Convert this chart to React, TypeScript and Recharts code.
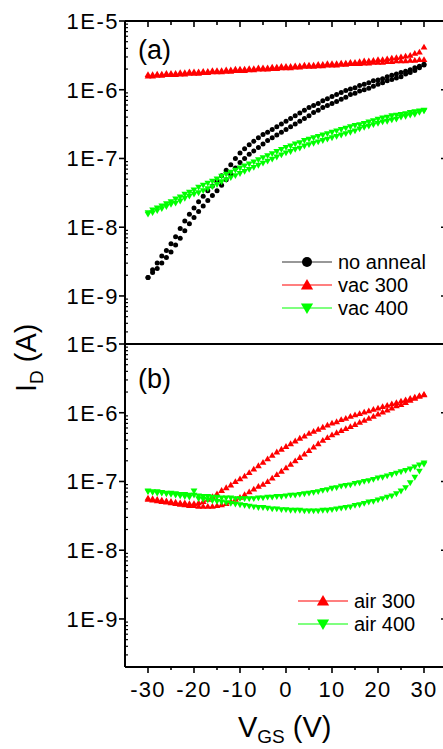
import React from "react";
import { ScatterChart, Scatter, XAxis, YAxis, Legend } from "recharts";

const FONT = '"Liberation Sans", Arial, sans-serif';

// gate sweep, V
const vgs = [
  -30, -29, -28, -27, -26, -25, -24, -23, -22, -21,
  -20, -19, -18, -17, -16, -15, -14, -13, -12, -11,
  -10, -9, -8, -7, -6, -5, -4, -3, -2, -1,
  0, 1, 2, 3, 4, 5, 6, 7, 8, 9,
  10, 11, 12, 13, 14, 15, 16, 17, 18, 19,
  20, 21, 22, 23, 24, 25, 26, 27, 28, 29,
  30,
];

// log10(I_D / A); one value per vgs entry
// panel (a)
const noAnnealFwd = [
  -8.73, -8.66, -8.6, -8.52, -8.44, -8.36, -8.26, -8.16, -8.05, -7.95,
  -7.86, -7.77, -7.69, -7.61, -7.54, -7.47, -7.39, -7.31, -7.23, -7.14,
  -7.06, -7.0, -6.94, -6.89, -6.84, -6.79, -6.74, -6.7, -6.66, -6.62,
  -6.58, -6.54, -6.5, -6.46, -6.42, -6.38, -6.33, -6.3, -6.26, -6.23,
  -6.2, -6.17, -6.14, -6.11, -6.07, -6.05, -6.02, -6.0, -5.98, -5.95,
  -5.92, -5.9, -5.87, -5.85, -5.83, -5.81, -5.77, -5.75, -5.72, -5.68,
  -5.64,
];
const noAnnealRev = [
  -8.73, -8.62, -8.52, -8.42, -8.34, -8.24, -8.14, -8.02, -7.91, -7.81,
  -7.72, -7.63, -7.55, -7.47, -7.4, -7.33, -7.25, -7.17, -7.09, -7.0,
  -6.92, -6.86, -6.8, -6.75, -6.7, -6.65, -6.62, -6.58, -6.54, -6.5,
  -6.46, -6.42, -6.38, -6.34, -6.3, -6.26, -6.23, -6.2, -6.16, -6.13,
  -6.1, -6.07, -6.04, -6.01, -5.99, -5.97, -5.94, -5.92, -5.9, -5.87,
  -5.86, -5.84, -5.81, -5.79, -5.77, -5.75, -5.73, -5.71, -5.68, -5.66,
  -5.63,
];
const vac300Fwd = [
  -5.8, -5.8, -5.79, -5.79, -5.78, -5.78, -5.78, -5.77, -5.77, -5.76,
  -5.76, -5.76, -5.75, -5.75, -5.74, -5.74, -5.74, -5.73, -5.73, -5.72,
  -5.72, -5.72, -5.71, -5.71, -5.7, -5.7, -5.7, -5.69, -5.69, -5.68,
  -5.68, -5.68, -5.67, -5.67, -5.66, -5.66, -5.66, -5.65, -5.65, -5.64,
  -5.64, -5.64, -5.63, -5.63, -5.62, -5.62, -5.62, -5.61, -5.61, -5.6,
  -5.6, -5.6, -5.59, -5.59, -5.58, -5.58, -5.58, -5.57, -5.57, -5.56,
  -5.56,
];
const vac300Rev = [
  -5.78, -5.78, -5.77, -5.77, -5.76, -5.76, -5.76, -5.75, -5.75, -5.74,
  -5.74, -5.74, -5.73, -5.73, -5.72, -5.72, -5.72, -5.71, -5.71, -5.7,
  -5.7, -5.7, -5.69, -5.69, -5.68, -5.68, -5.68, -5.67, -5.67, -5.66,
  -5.66, -5.66, -5.65, -5.65, -5.64, -5.64, -5.64, -5.63, -5.63, -5.62,
  -5.62, -5.62, -5.61, -5.61, -5.6, -5.6, -5.59, -5.58, -5.58, -5.57,
  -5.56, -5.56, -5.55, -5.54, -5.53, -5.52, -5.51, -5.5, -5.47, -5.45,
  -5.38,
];
const vac400Fwd = [
  -7.81, -7.79, -7.76, -7.73, -7.7, -7.67, -7.65, -7.62, -7.58, -7.55,
  -7.52, -7.5, -7.47, -7.44, -7.41, -7.38, -7.34, -7.31, -7.28, -7.25,
  -7.22, -7.19, -7.16, -7.13, -7.1, -7.07, -7.04, -7.01, -6.98, -6.95,
  -6.92, -6.9, -6.87, -6.85, -6.82, -6.8, -6.78, -6.76, -6.74, -6.72,
  -6.7, -6.68, -6.66, -6.64, -6.62, -6.6, -6.57, -6.55, -6.53, -6.51,
  -6.49, -6.47, -6.46, -6.44, -6.43, -6.4, -6.39, -6.37, -6.36, -6.33,
  -6.31,
];
const vac400Rev = [
  -7.79, -7.75, -7.72, -7.69, -7.66, -7.63, -7.59, -7.56, -7.52, -7.49,
  -7.46, -7.42, -7.39, -7.36, -7.33, -7.3, -7.26, -7.23, -7.2, -7.17,
  -7.14, -7.11, -7.08, -7.05, -7.02, -6.99, -6.96, -6.93, -6.9, -6.87,
  -6.84, -6.82, -6.79, -6.77, -6.74, -6.72, -6.7, -6.68, -6.66, -6.64,
  -6.62, -6.6, -6.58, -6.56, -6.54, -6.52, -6.51, -6.49, -6.47, -6.45,
  -6.43, -6.41, -6.4, -6.38, -6.37, -6.36, -6.35, -6.33, -6.32, -6.31,
  -6.3,
];

// panel (b)
const air300Fwd = [
  -7.26, -7.27, -7.28, -7.29, -7.3, -7.31, -7.32, -7.33, -7.34, -7.35,
  -7.35, -7.36, -7.36, -7.36, -7.36, -7.35, -7.34, -7.32, -7.29, -7.26,
  -7.23, -7.19, -7.15, -7.11, -7.07, -7.04, -7.0, -6.95, -6.9, -6.85,
  -6.8, -6.75, -6.7, -6.65, -6.6, -6.55, -6.5, -6.45, -6.4, -6.36,
  -6.32, -6.29, -6.26, -6.23, -6.2, -6.17, -6.14, -6.11, -6.08, -6.05,
  -6.02, -5.99, -5.96, -5.93, -5.9, -5.88, -5.85, -5.82, -5.79, -5.76,
  -5.74,
];
const air300Rev = [
  -7.24, -7.25, -7.26, -7.27, -7.28, -7.29, -7.3, -7.31, -7.31, -7.32,
  -7.32, -7.31, -7.29, -7.26, -7.22, -7.18, -7.13, -7.09, -7.05, -7.0,
  -6.96, -6.92, -6.87, -6.82, -6.77, -6.72, -6.67, -6.62, -6.57, -6.53,
  -6.49, -6.45, -6.41, -6.37, -6.34, -6.3, -6.27, -6.24, -6.21, -6.18,
  -6.15, -6.13, -6.1, -6.08, -6.05, -6.03, -6.01, -5.99, -5.97, -5.95,
  -5.93, -5.91, -5.89, -5.87, -5.85, -5.83, -5.81, -5.79, -5.77, -5.75,
  -5.73,
];
const air400Fwd = [
  -7.14, -7.15, -7.15, -7.16, -7.17, -7.17, -7.18, -7.19, -7.19, -7.2,
  -7.2, -7.21, -7.22, -7.22, -7.23, -7.23, -7.24, -7.24, -7.24, -7.25,
  -7.25, -7.25, -7.25, -7.25, -7.24, -7.24, -7.23, -7.23, -7.22, -7.22,
  -7.21, -7.2, -7.2, -7.19, -7.18, -7.17, -7.16, -7.15, -7.13, -7.12,
  -7.1, -7.09, -7.07, -7.06, -7.05, -7.03, -7.02, -7.0, -6.99, -6.97,
  -6.95, -6.94, -6.92, -6.9, -6.88, -6.86, -6.84, -6.82, -6.79, -6.76,
  -6.73,
];
const air400Rev = [
  -7.15, -7.16, -7.17, -7.17, -7.18, -7.19, -7.2, -7.21, -7.22, -7.23,
  -7.14, -7.25, -7.26, -7.27, -7.28, -7.29, -7.3, -7.31, -7.32, -7.33,
  -7.34, -7.35, -7.36, -7.37, -7.38, -7.38, -7.39, -7.4, -7.4, -7.41,
  -7.41, -7.42, -7.42, -7.42, -7.43, -7.43, -7.43, -7.43, -7.42, -7.42,
  -7.41, -7.4, -7.39, -7.38, -7.37, -7.35, -7.34, -7.32, -7.3, -7.29,
  -7.27, -7.25, -7.23, -7.21, -7.18, -7.14, -7.09, -7.02, -6.94, -6.85,
  -6.75,
];

const xTicks = [-30, -25, -20, -15, -10, -5, 0, 5, 10, 15, 20, 25, 30];
const X_DOMAIN = [-35, 35];
const Y_DOMAIN = [2e-10, 1e-5];

// log axis ticks: decades plus 2..9 minors
const yTicks: number[] = [];
for (let d = -10; d <= -6; d++) {
  for (let k = 1; k <= 9; k++) {
    const t = k * 10 ** d;
    if (t >= 1.99e-10) yTicks.push(t);
  }
}
yTicks.push(1e-5);

// forward sweep then reverse sweep
const sweep = (fwd: number[], rev: number[]) => [
  ...vgs.map((v, k) => ({ v, i: 10 ** fwd[k] })),
  ...vgs.map((v, k) => ({ v, i: 10 ** rev[k] })).reverse(),
];

const RED = "#ff0000";
const GREEN = "#00ff00";

const dot = (p: any) => <circle cx={p.cx} cy={p.cy} r={2.5} fill="#000" />;
const triUp = (color: string, s = 1) => (p: any) => (
  <polygon
    points={`${p.cx},${p.cy - 3.3 * s} ${p.cx + 3.4 * s},${p.cy + 2.5 * s} ${p.cx - 3.4 * s},${p.cy + 2.5 * s}`}
    fill={color}
  />
);
const triDown = (color: string, s = 1) => (p: any) => (
  <polygon
    points={`${p.cx},${p.cy + 3.3 * s} ${p.cx + 3.4 * s},${p.cy - 2.5 * s} ${p.cx - 3.4 * s},${p.cy - 2.5 * s}`}
    fill={color}
  />
);

const legendMarkers: Record<string, (p: any) => React.ReactNode> = {
  "no anneal": (p) => <circle cx={p.cx} cy={p.cy} r={5} fill="#000" />,
  "vac 300": triUp(RED, 1.8),
  "vac 400": triDown(GREEN, 1.8),
  "air 300": triUp(RED, 1.8),
  "air 400": triDown(GREEN, 1.8),
};

function LegendBox({ payload }: any) {
  const items = payload || [];
  return (
    <svg width={180} height={items.length * 23 + 4}>
      {items.map((it: any, k: number) => {
        const cy = 12 + k * 23;
        const line = it.color === "#000" ? "#333" : it.color;
        return (
          <g key={it.value}>
            <line x1={2} x2={52} y1={cy} y2={cy} stroke={line} strokeWidth={1.2} />
            {legendMarkers[it.value]({ cx: 27, cy })}
            <text x={58} y={cy + 7} fontSize={20} fontFamily={FONT} fill="#000">
              {it.value}
            </text>
          </g>
        );
      })}
    </svg>
  );
}

function LeftTick({ x, y, payload }: any) {
  const lg = Math.log10(payload.value);
  const e = Math.round(lg);
  if (Math.abs(lg - e) > 1e-6) {
    return <line x1={x} x2={x + 3} y1={y} y2={y} stroke="#000" strokeWidth={1.2} />;
  }
  return (
    <g>
      <line x1={x - 6} x2={x} y1={y} y2={y} stroke="#000" strokeWidth={1.6} />
      <text x={x - 6} y={y + 8} textAnchor="end" fontSize={22} letterSpacing={1.5} fontFamily={FONT} fill="#000">
        {`1E${e}`}
      </text>
    </g>
  );
}

function RightTick({ x, y, payload }: any) {
  const lg = Math.log10(payload.value);
  const major = Math.abs(lg - Math.round(lg)) < 1e-6;
  return <line x1={x - (major ? 6 : 3)} x2={x} y1={y} y2={y} stroke="#000" strokeWidth={1.6} />;
}

function TopTick({ x, y, payload }: any) {
  const major = payload.value % 10 === 0;
  return <line x1={x} x2={x} y1={y} y2={y + (major ? 6 : 4)} stroke="#000" strokeWidth={1.6} />;
}

function BottomTick({ x, y, payload }: any) {
  const major = payload.value % 10 === 0;
  return (
    <g>
      <line x1={x} x2={x} y1={y} y2={y + (major ? 6 : 3)} stroke="#000" strokeWidth={1.6} />
      {major && (
        <text x={x} y={y + 30} textAnchor="middle" fontSize={22} letterSpacing={1.2} fontFamily={FONT} fill="#000">
          {payload.value}
        </text>
      )}
    </g>
  );
}

const axisLine = { stroke: "#000", strokeWidth: 2 };

function LogAxes() {
  return (
    <>
      <YAxis
        yAxisId="left"
        type="number"
        dataKey="i"
        scale="log"
        domain={Y_DOMAIN}
        allowDataOverflow
        ticks={yTicks}
        interval={0}
        width={125}
        tickSize={0}
        tickMargin={0}
        tickLine={false}
        axisLine={axisLine}
        tick={<LeftTick />}
      />
      <YAxis
        yAxisId="right"
        orientation="right"
        type="number"
        dataKey="i"
        scale="log"
        domain={Y_DOMAIN}
        allowDataOverflow
        ticks={yTicks}
        interval={0}
        width={23}
        tickSize={0}
        tickMargin={0}
        tickLine={false}
        axisLine={axisLine}
        tick={<RightTick />}
      />
    </>
  );
}

export default function App() {
  return (
    <div
      style={{
        position: "absolute",
        left: 0,
        top: 0,
        width: 443,
        height: 749,
        overflow: "hidden",
        background: "#fff",
        fontFamily: FONT,
      }}
    >
      {/* panel (a) */}
      <div style={{ position: "absolute", left: 0, top: 0 }}>
        <ScatterChart width={470} height={345} margin={{ top: 0, right: 0, bottom: 1, left: 0 }}>
          <XAxis
            xAxisId="top"
            orientation="top"
            type="number"
            dataKey="v"
            domain={X_DOMAIN}
            ticks={xTicks}
            interval={0}
            height={21}
            tickSize={0}
            tickMargin={0}
            tickLine={false}
            axisLine={axisLine}
            tick={<TopTick />}
          />
          <YAxis
            yAxisId="left"
            type="number"
            dataKey="i"
            scale="log"
            domain={Y_DOMAIN}
            allowDataOverflow
            ticks={yTicks}
            interval={0}
            width={125}
            tickSize={0}
            tickMargin={0}
            tickLine={false}
            axisLine={axisLine}
            tick={<LeftTick />}
          />
          <YAxis
            yAxisId="right"
            orientation="right"
            type="number"
            dataKey="i"
            scale="log"
            domain={Y_DOMAIN}
            allowDataOverflow
            ticks={yTicks}
            interval={0}
            width={23}
            tickSize={0}
            tickMargin={0}
            tickLine={false}
            axisLine={axisLine}
            tick={<RightTick />}
          />
          <Scatter
            name="no anneal"
            xAxisId="top"
            yAxisId="left"
            data={sweep(noAnnealFwd, noAnnealRev)}
            fill="#000"
            shape={dot}
            isAnimationActive={false}
          />
          <Scatter
            name="vac 300"
            xAxisId="top"
            yAxisId="left"
            data={sweep(vac300Fwd, vac300Rev)}
            fill={RED}
            shape={triUp(RED)}
            isAnimationActive={false}
          />
          <Scatter
            name="vac 400"
            xAxisId="top"
            yAxisId="left"
            data={sweep(vac400Fwd, vac400Rev)}
            fill={GREEN}
            shape={triDown(GREEN)}
            isAnimationActive={false}
          />
          <Legend
            layout="vertical"
            align="center"
            verticalAlign="middle"
            wrapperStyle={{ left: 280, top: 250, width: 180 }}
            content={<LegendBox />}
          />
        </ScatterChart>
      </div>

      {/* panel (b) */}
      <div style={{ position: "absolute", left: 0, top: 324 }}>
        <ScatterChart width={470} height={425} margin={{ top: 0, right: 0, bottom: 0, left: 0 }}>
          <XAxis
            xAxisId="top"
            orientation="top"
            type="number"
            dataKey="v"
            domain={X_DOMAIN}
            ticks={xTicks}
            interval={0}
            height={20}
            tickSize={0}
            tickMargin={0}
            tickLine={false}
            axisLine={axisLine}
            tick={<TopTick />}
          />
          <XAxis
            xAxisId="bottom"
            orientation="bottom"
            type="number"
            dataKey="v"
            domain={X_DOMAIN}
            ticks={xTicks}
            interval={0}
            height={82}
            tickSize={0}
            tickMargin={0}
            tickLine={false}
            axisLine={axisLine}
            tick={<BottomTick />}
          />
          <YAxis
            yAxisId="left"
            type="number"
            dataKey="i"
            scale="log"
            domain={Y_DOMAIN}
            allowDataOverflow
            ticks={yTicks}
            interval={0}
            width={125}
            tickSize={0}
            tickMargin={0}
            tickLine={false}
            axisLine={axisLine}
            tick={<LeftTick />}
          />
          <YAxis
            yAxisId="right"
            orientation="right"
            type="number"
            dataKey="i"
            scale="log"
            domain={Y_DOMAIN}
            allowDataOverflow
            ticks={yTicks}
            interval={0}
            width={23}
            tickSize={0}
            tickMargin={0}
            tickLine={false}
            axisLine={axisLine}
            tick={<RightTick />}
          />
          <Scatter
            name="air 300"
            xAxisId="bottom"
            yAxisId="left"
            data={sweep(air300Fwd, air300Rev)}
            fill={RED}
            shape={triUp(RED)}
            isAnimationActive={false}
          />
          <Scatter
            name="air 400"
            xAxisId="bottom"
            yAxisId="left"
            data={sweep(air400Fwd, air400Rev)}
            fill={GREEN}
            shape={triDown(GREEN)}
            isAnimationActive={false}
          />
          <Legend
            layout="vertical"
            align="center"
            verticalAlign="middle"
            wrapperStyle={{ left: 296, top: 265, width: 180 }}
            content={<LegendBox />}
          />
        </ScatterChart>
      </div>

      {/* panel letters and axis titles */}
      <svg
        width={443}
        height={749}
        style={{ position: "absolute", left: 0, top: 0, pointerEvents: "none" }}
        fontFamily={FONT}
      >
        <text x={138} y={59} fontSize={27} fill="#000">(a)</text>
        <text x={138} y={388} fontSize={27} fill="#000">(b)</text>
        <text x={238} y={737} fontSize={29} fill="#000">
          V
          <tspan fontSize={19} dy={6}>GS</tspan>
          <tspan fontSize={29} dy={-6}> (V)</tspan>
        </text>
        <text transform="translate(36,392) rotate(-90)" fontSize={29} fill="#000">
          I
          <tspan fontSize={19} dy={7}>D</tspan>
          <tspan fontSize={29} dy={-7}> (A)</tspan>
        </text>
      </svg>
    </div>
  );
}
